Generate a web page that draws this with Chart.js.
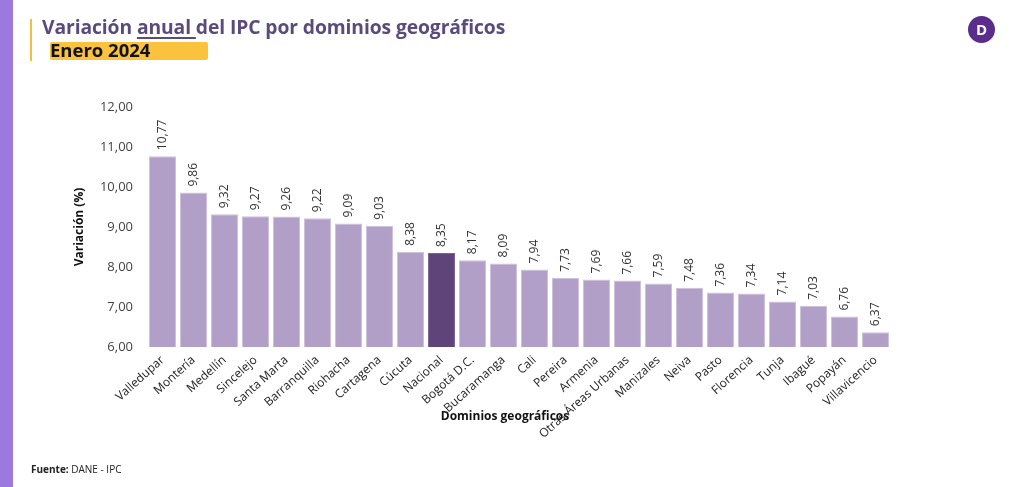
<!DOCTYPE html>
<html>
<head>
<meta charset="utf-8">
<script src="https://cdn.jsdelivr.net/npm/chart.js@4"></script>
<style>
  html, body { margin:0; padding:0; background:#fff; }
  body { width:1024px; height:487px; position:relative; overflow:hidden; font-family:"Open Sans", "Noto Sans", sans-serif; }
  #stripe { position:absolute; left:0; top:0; width:13px; height:487px; background:#9b79de; }
  #ybar { position:absolute; left:30px; top:19px; width:2px; height:42px; background:#f3c03e; }
  #title { position:absolute; left:42px; top:13px; font-size:19.3px; font-weight:700; color:#5b4b7c; white-space:nowrap; letter-spacing:-0.1px; }
  #title u { text-decoration-thickness:1.5px; text-underline-offset:3px; }
  #sub { position:absolute; left:50px; top:42px; width:158px; height:18px; background:#fbc23d; border-radius:2px; }
  #subt { position:absolute; left:50px; top:37px; font-size:18.5px; font-weight:700; color:#111; white-space:nowrap; }
  #logo { position:absolute; left:968px; top:16px; width:27px; height:27px; border-radius:50%; background:#5a2d8c; color:#fff; font-weight:700; font-size:15px; line-height:27px; text-align:center; }
  #src { position:absolute; left:31px; top:462px; font-size:10px; color:#222; white-space:nowrap; }
  #wrap { position:absolute; left:0; top:0; width:1024px; height:487px; }
</style>
</head>
<body>
<div id="wrap"><canvas id="c"></canvas></div>
<div id="stripe"></div>
<div id="ybar"></div>
<div id="title">Variación <u>anual </u>del IPC por dominios geográficos</div>
<div id="sub"></div>
<div id="subt">Enero 2024</div>
<div id="logo">D</div>
<div id="src"><b>Fuente:</b> DANE - IPC</div>
<script>
const categories = ["Valledupar","Montería","Medellín","Sincelejo","Santa Marta","Barranquilla","Riohacha","Cartagena","Cúcuta","Nacional","Bogotá D.C.","Bucaramanga","Cali","Pereira","Armenia","Otras Áreas Urbanas","Manizales","Neiva","Pasto","Florencia","Tunja","Ibagué","Popayán","Villavicencio"];
const values = [10.77,9.86,9.32,9.27,9.26,9.22,9.09,9.03,8.38,8.35,8.17,8.09,7.94,7.73,7.69,7.66,7.59,7.48,7.36,7.34,7.14,7.03,6.76,6.37];
const highlight = "Nacional";
const yTitle = "Variación (%)";
const xTitle = "Dominios geográficos";

const fmt = v => v.toFixed(2).replace('.', ',');
const colors = categories.map(c => c === highlight ? '#5f4479' : '#b19fc8');
const borders = categories.map(c => c === highlight ? '#7a639a' : '#cdc1dc');

const FONT = '"Open Sans", "Noto Sans", sans-serif';

const labelPlugin = {
  id: 'vals',
  afterDatasetsDraw(chart) {
    const ctx = chart.ctx;
    const meta = chart.getDatasetMeta(0);
    ctx.save();
    ctx.fillStyle = '#333';
    ctx.font = '12px ' + FONT;
    ctx.textAlign = 'left';
    ctx.textBaseline = 'middle';
    meta.data.forEach((bar, i) => {
      ctx.save();
      ctx.translate(bar.x, bar.y - 6);
      ctx.rotate(-Math.PI / 2);
      ctx.fillText(fmt(values[i]), 0, 0);
      ctx.restore();
    });
    ctx.restore();
  },
  afterDraw(chart) {
    const ctx = chart.ctx;
    ctx.save();
    ctx.fillStyle = '#111';
    ctx.font = 'bold 12px ' + FONT;
    ctx.textAlign = 'center';
    ctx.textBaseline = 'middle';
    ctx.save();
    ctx.translate(80, 227);
    ctx.rotate(-Math.PI / 2);
    ctx.fillText(yTitle, 0, 0);
    ctx.restore();
    ctx.fillText(xTitle, 505, 417);
    ctx.restore();
  }
};

new Chart(document.getElementById('c'), {
  type: 'bar',
  data: {
    labels: categories,
    datasets: [{
      data: values,
      backgroundColor: colors,
      borderColor: borders,
      borderWidth: 1,
      barPercentage: 0.87,
      categoryPercentage: 1.0
    }]
  },
  options: {
    responsive: true,
    maintainAspectRatio: false,
    animation: false,
    layout: { padding: { left: 0, top: 107, right: 133, bottom: 0 } },
    plugins: { legend: { display: false }, tooltip: { enabled: false } },
    scales: {
      x: {
        grid: { display: false, drawTicks: false },
        border: { display: false },
        ticks: {
          autoSkip: false, minRotation: 42, maxRotation: 42, padding: 6,
          color: '#222', font: { family: FONT, size: 12 }
        },
        afterFit: s => { s.height = 140; }
      },
      y: {
        min: 6, max: 12,
        grid: { display: false, drawTicks: false },
        border: { display: false },
        ticks: {
          stepSize: 1, padding: 14, color: '#444',
          font: { family: FONT, size: 13 },
          callback: v => fmt(v)
        },
        afterFit: s => { s.width = 147; }
      }
    }
  },
  plugins: [labelPlugin]
});
</script>
</body>
</html>
